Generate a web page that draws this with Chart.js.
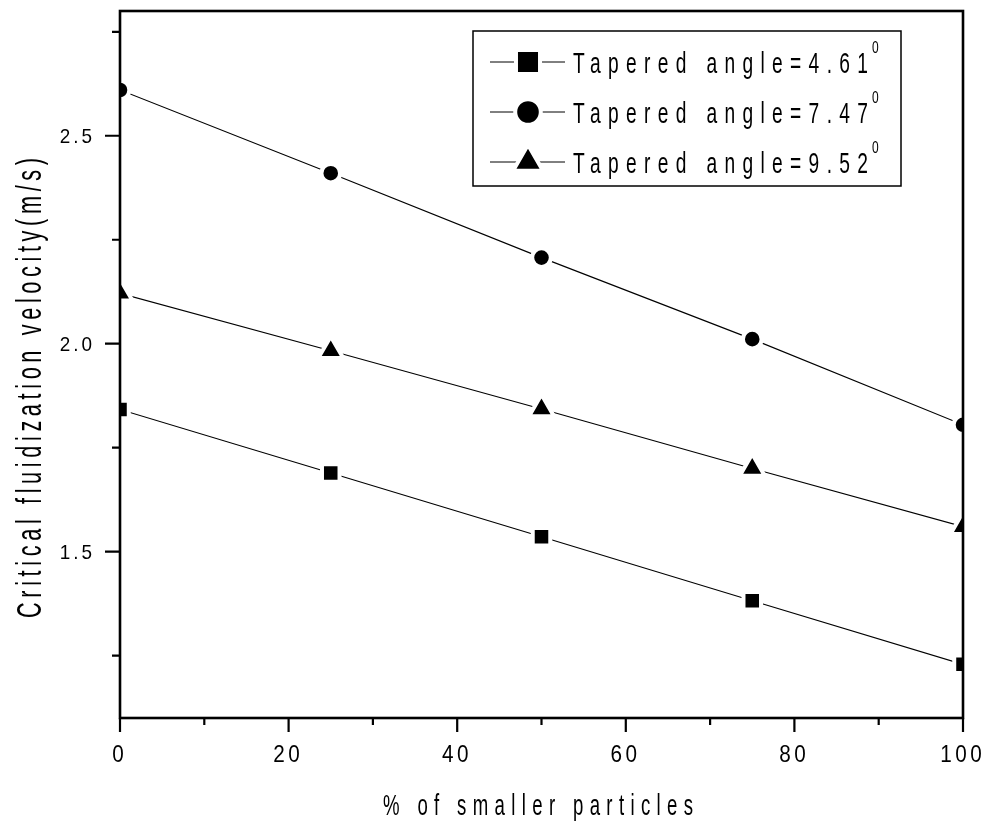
<!DOCTYPE html>
<html>
<head>
<meta charset="utf-8">
<script src="https://cdn.jsdelivr.net/npm/chart.js@4/dist/chart.umd.min.js"></script>
<style>
  html, body { margin: 0; background: #fff; }
  #wrap { width: 987px; height: 826px; }
</style>
</head>
<body>
<div id="wrap"><canvas id="chart1"></canvas></div>
<script>
// values
const smallerPct = [0, 25, 50, 75, 100];
const angle461 = [1.842, 1.689, 1.536, 1.382, 1.229];
const angle747 = [2.61, 2.41, 2.207, 2.011, 1.805];
const angle952 = [2.121, 1.983, 1.843, 1.70, 1.56];
const seriesLabels = ['Tapered angle=4.61', 'Tapered angle=7.47', 'Tapered angle=9.52'];
const xTicks = [0, 10, 20, 30, 40, 50, 60, 70, 80, 90, 100];
const yTicks = [1.25, 1.5, 1.75, 2.0, 2.25, 2.5, 2.75];
const xTitle = '% of smaller particles';
const yTitle = 'Critical fluidization velocity(m/s)';

const FONT = "'Liberation Sans', Arial, sans-serif";

function pts(ys) {
  return smallerPct.map((x, i) => ({ x: x, y: ys[i] }));
}

function isMajorY(v) {
  return Math.abs(v * 2 - Math.round(v * 2)) < 1e-9;
}

// narrow, letter-spaced text: either stretched to a width or with a fixed spacing
function drawText(ctx, text, x, y, o) {
  ctx.save();
  ctx.translate(x, y);
  ctx.scale(o.sx, 1);
  ctx.font = o.size + 'px ' + FONT;
  ctx.letterSpacing = '0px';
  const w0 = ctx.measureText(text).width;
  const n = text.length;
  let ls = o.ls !== undefined ? o.ls / o.sx : 0;
  if (o.width !== undefined && n > 1) ls = (o.width / o.sx - w0) / (n - 1);
  ctx.letterSpacing = ls + 'px';
  const vis = w0 + ls * (n - 1);
  let start = 0;
  if (o.align === 'center') start = -vis / 2;
  if (o.align === 'right') start = -vis;
  ctx.textAlign = 'left';
  ctx.textBaseline = 'alphabetic';
  ctx.fillText(text, start, 0);
  ctx.restore();
  return (start + vis) * o.sx;
}

const framePlugin = {
  id: 'frame',
  afterDatasetsDraw(chart) {
    const ctx = chart.ctx;
    const a = chart.chartArea;
    const xs = chart.scales.x, ys = chart.scales.y;
    ctx.save();
    ctx.strokeStyle = '#000';
    ctx.lineWidth = 2.6;
    ctx.strokeRect(a.left, a.top, a.right - a.left, a.bottom - a.top);
    ctx.lineWidth = 2.2;
    ctx.beginPath();
    xTicks.forEach(v => {
      const px = xs.getPixelForValue(v);
      const len = v % 20 === 0 ? 14 : 7;
      ctx.moveTo(px, a.bottom);
      ctx.lineTo(px, a.bottom + len);
    });
    yTicks.forEach(v => {
      const py = ys.getPixelForValue(v);
      const len = isMajorY(v) ? 15 : 8;
      ctx.moveTo(a.left, py);
      ctx.lineTo(a.left - len, py);
    });
    ctx.stroke();

    // tick labels
    ctx.fillStyle = '#000';
    xTicks.filter(v => v % 20 === 0).forEach(v => {
      drawText(ctx, String(v), xs.getPixelForValue(v) - 2, 761.5,
        { size: 23, sx: 0.9, ls: 3.5, align: 'center' });
    });
    yTicks.filter(isMajorY).forEach(v => {
      drawText(ctx, v.toFixed(1), 92, ys.getPixelForValue(v) + 7.5,
        { size: 21, sx: 0.9, ls: 3, align: 'right' });
    });
    ctx.restore();
  },
  afterDraw(chart) {
    const ctx = chart.ctx;
    ctx.save();
    ctx.fillStyle = '#000';

    // axis titles
    drawText(ctx, xTitle, 383, 815, { size: 30, sx: 0.62, width: 310 });
    ctx.save();
    ctx.translate(41, 618);
    ctx.rotate(-Math.PI / 2);
    drawText(ctx, yTitle, 0, 0, { size: 35, sx: 0.62, width: 460 });
    ctx.restore();

    // legend box
    const bx = 473, by = 31, bw = 428, bh = 155;
    ctx.fillStyle = '#fff';
    ctx.fillRect(bx, by, bw, bh);
    ctx.strokeStyle = '#000';
    ctx.lineWidth = 1.5;
    ctx.strokeRect(bx, by, bw, bh);

    const legendRadius = { rect: 17, circle: 12.8, triangle: 17.3 };
    chart.data.datasets.forEach((ds, i) => {
      const y = 62 + i * 50;
      ctx.strokeStyle = '#000';
      ctx.lineWidth = 1;
      ctx.beginPath();
      ctx.moveTo(490, y);
      ctx.lineTo(565, y);
      ctx.stroke();
      ctx.fillStyle = '#000';
      ctx.strokeStyle = '#fff';
      ctx.lineWidth = 4;
      Chart.helpers.drawPoint(ctx, {
        pointStyle: ds.pointStyle,
        radius: legendRadius[ds.pointStyle],
        borderWidth: 4,
        rotation: 0
      }, 528, y);

      ctx.fillStyle = '#000';
      const end = drawText(ctx, ds.label, 573, y + 11, { size: 30, sx: 0.64, width: 295 });
      drawText(ctx, '0', 573 + end + 4, y - 9, { size: 16, sx: 0.75, ls: 0 });
    });
    ctx.restore();
  }
};

const ctx = document.getElementById('chart1').getContext('2d');
const chart1 = new Chart(ctx, {
  type: 'scatter',
  data: {
    datasets: [
      {
        label: seriesLabels[0],
        data: pts(angle461),
        pointStyle: 'rect',
        pointRadius: 12.4
      },
      {
        label: seriesLabels[1],
        data: pts(angle747),
        pointStyle: 'circle',
        pointRadius: 9.3
      },
      {
        label: seriesLabels[2],
        data: pts(angle952),
        pointStyle: 'triangle',
        pointRadius: 14.4
      }
    ].map(ds => Object.assign(ds, {
      showLine: true,
      borderColor: '#000',
      borderWidth: 1.1,
      pointBackgroundColor: '#000',
      pointBorderColor: '#fff',
      pointBorderWidth: 4,
      pointHoverRadius: ds.pointRadius,
      clip: 0
    }))
  },
  options: {
    responsive: true,
    maintainAspectRatio: false,
    animation: false,
    events: [],
    layout: { autoPadding: false, padding: { left: 0, right: 24, top: 11, bottom: 0 } },
    scales: {
      x: {
        type: 'linear',
        min: 0,
        max: 100,
        afterFit: s => { s.height = 108; s.paddingLeft = 0; s.paddingRight = 0; },
        afterBuildTicks: s => { s.ticks = xTicks.map(v => ({ value: v })); },
        grid: { display: false },
        border: { display: false },
        ticks: { display: false }
      },
      y: {
        type: 'linear',
        min: 1.1,
        max: 2.8,
        afterFit: s => { s.width = 120; s.paddingTop = 0; s.paddingBottom = 0; },
        afterBuildTicks: s => { s.ticks = yTicks.map(v => ({ value: v })); },
        grid: { display: false },
        border: { display: false },
        ticks: { display: false }
      }
    },
    plugins: {
      legend: { display: false },
      tooltip: { enabled: false }
    }
  },
  plugins: [framePlugin]
});
</script>
</body>
</html>
